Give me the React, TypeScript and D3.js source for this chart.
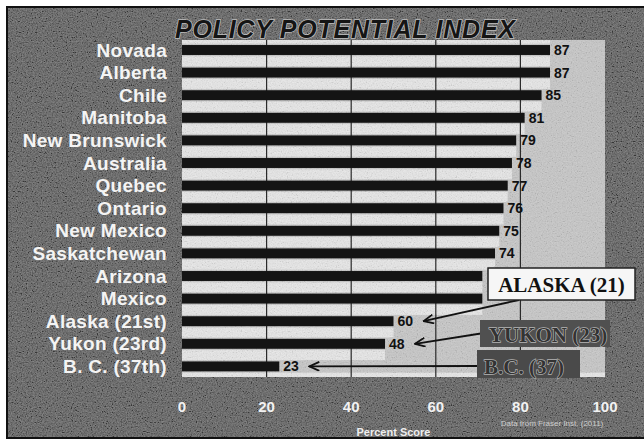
import * as d3 from 'd3';

const REGIONS = [
  'Novada', 'Alberta', 'Chile', 'Manitoba', 'New Brunswick', 'Australia', 'Quebec', 'Ontario',
  'New Mexico', 'Saskatchewan', 'Arizona', 'Mexico', 'Alaska (21st)', 'Yukon (23rd)', 'B. C. (37th)',
];
// bar lengths as drawn in the source (Alaska's bar reads ~50 though it is labelled 60)
const SCORES = [87, 87, 85, 81, 79, 78, 77, 76, 75, 74, 71, 71, 50, 48, 23];
const SCORE_LABELS = ['87', '87', '85', '81', '79', '78', '77', '76', '75', '74', '', '', '60', '48', '23'];
const X_TICKS = [0, 20, 40, 60, 80, 100];
const GRID_TICKS = [20, 40, 60, 80];

const W = 644, H = 441;
const SANS = 'Liberation Sans, Arial, Helvetica, sans-serif';
const SERIF = 'Liberation Serif, Times New Roman, serif';

export default function App() {
  const x = d3.scaleLinear().domain([0, 100]).range([182, 605]);
  const y = d3.scaleBand<string>().domain(REGIONS).range([38.7, 377.7]).paddingInner(0.56).paddingOuter(0.28);
  const bw = y.bandwidth();
  const step = y.step();
  const cy = (r: string) => (y(r) ?? 0) + bw / 2;

  const plotTop = 40, plotBottom = 377;

  // light stripes sit between the bars, running as far as the longer neighbour
  const stripes = d3.range(REGIONS.length + 1).map(i => {
    const above = i > 0 ? SCORES[i - 1] : SCORES[0];
    const below = i < REGIONS.length ? SCORES[i] : 100;
    const c = i < REGIONS.length ? cy(REGIONS[i]) - step / 2 : cy(REGIONS[REGIONS.length - 1]) + step / 2;
    return { c, v: Math.max(above, below) };
  });

  const tip = (i: number) => ({ x: x(SCORES[i]) + 30, y: cy(REGIONS[i]) });
  const tAk = tip(REGIONS.indexOf('Alaska (21st)'));
  const tYk = tip(REGIONS.indexOf('Yukon (23rd)'));
  const tBc = tip(REGIONS.indexOf('B. C. (37th)'));

  return (
    <svg width={W} height={H} viewBox={`0 0 ${W} ${H}`} style={{ position: 'absolute', left: 0, top: 0, display: 'block' }}>
      <defs>
        <filter id="grain" x="0" y="0" width="100%" height="100%">
          <feTurbulence type="fractalNoise" baseFrequency="0.8" numOctaves={2} seed={4} />
          <feColorMatrix type="matrix" values="0.33 0.33 0.33 0 0  0.33 0.33 0.33 0 0  0.33 0.33 0.33 0 0  0 0 0 0 1" />
          <feComponentTransfer>
            <feFuncR type="linear" slope={3} intercept={-1} />
            <feFuncG type="linear" slope={3} intercept={-1} />
            <feFuncB type="linear" slope={3} intercept={-1} />
          </feComponentTransfer>
        </filter>
        <marker id="arr" viewBox="0 0 12 10" refX="11" refY="5" markerWidth="12" markerHeight="10" orient="auto" markerUnits="userSpaceOnUse">
          <path d="M1,0.5 L11,5 L1,9.5" fill="none" stroke="#111" strokeWidth={1.8} />
        </marker>
      </defs>

      <rect x={0} y={0} width={W} height={H} fill="#fff" />
      {/* dark textured card */}
      <rect x={7} y={7} width={W} height={431} fill="#4e4e4e" stroke="#111" strokeWidth={2} />
      <rect x={8} y={8} width={W} height={429} filter="url(#grain)" opacity={0.3} />

      {/* plot panel */}
      <rect x={x(0)} y={plotTop} width={x(100) - x(0)} height={plotBottom - plotTop} fill="#c6c6c6" />
      {stripes.map((s, i) => (
        <rect key={`s${i}`} x={x(0)} y={Math.max(plotTop, s.c - 5)} width={x(s.v) - x(0)}
          height={Math.min(plotBottom, s.c + 5) - Math.max(plotTop, s.c - 5)} fill="#e6e6e6" />
      ))}
      <rect x={x(0)} y={plotTop} width={x(100) - x(0)} height={plotBottom - plotTop} filter="url(#grain)" opacity={0.1} />

      {GRID_TICKS.map(t => (
        <line key={`g${t}`} x1={x(t)} x2={x(t)} y1={plotTop} y2={plotBottom} stroke="#2a2a2a" strokeWidth={1.2} />
      ))}

      {REGIONS.map((r, i) => (
        <rect key={`b${r}`} x={x(0)} y={y(r)} width={x(SCORES[i]) - x(0)} height={bw} fill="#141414" />
      ))}

      {REGIONS.map((r, i) => (
        <text key={`v${r}`} x={x(SCORES[i]) + 4} y={cy(r) + 5} fontFamily={SANS} fontWeight="bold" fontSize={14} fill="#111">
          {SCORE_LABELS[i]}
        </text>
      ))}

      {REGIONS.map(r => (
        <text key={`l${r}`} x={167} y={cy(r) + 6.5} textAnchor="end" fontFamily={SANS} fontWeight="bold" fontSize={19}
          letterSpacing={0.3} fill="#f4f4f4">{r}</text>
      ))}

      <text x={345} y={38} textAnchor="middle" fontFamily={SANS} fontWeight="bold" fontStyle="italic" fontSize={25}
        fill="#151515" stroke="#bdbdbd" strokeWidth={1.6} paintOrder="stroke" textLength={340}>
        POLICY  POTENTIAL  INDEX
      </text>

      {X_TICKS.map(t => (
        <text key={`t${t}`} x={x(t)} y={412} textAnchor="middle" fontFamily={SANS} fontWeight="bold" fontSize={15} fill="#f2f2f2">{t}</text>
      ))}
      <text x={(x(0) + x(100)) / 2} y={436} textAnchor="middle" fontFamily={SANS} fontWeight="bold" fontSize={11} fill="#eee">Percent Score</text>
      <text x={552} y={426} textAnchor="middle" fontFamily={SANS} fontSize={8} fill="#cfcfcf">Data from Fraser Inst. (2011)</text>

      {/* call-outs */}
      <line x1={519} y1={300} x2={tAk.x} y2={tAk.y} stroke="#111" strokeWidth={1.8} markerEnd="url(#arr)" />
      <line x1={484} y1={333} x2={tYk.x} y2={tYk.y} stroke="#111" strokeWidth={1.8} markerEnd="url(#arr)" />
      <line x1={478} y1={366} x2={tBc.x} y2={tBc.y} stroke="#111" strokeWidth={1.8} markerEnd="url(#arr)" />

      <rect x={488} y={268} width={147} height={32} fill="#f6f6f6" stroke="#222" strokeWidth={1.5} />
      <text x={561.5} y={292} textAnchor="middle" fontFamily={SERIF} fontWeight="bold" fontSize={21} fill="#111">ALASKA (21)</text>

      <rect x={480} y={320} width={130} height={27} fill="#505050" />
      <text x={548} y={342} textAnchor="middle" fontFamily={SERIF} fontWeight="bold" fontSize={21} fill="#333"
        stroke="#b4b4b4" strokeWidth={1.3} paintOrder="stroke">YUKON (23)</text>

      <rect x={477} y={350} width={103} height={28} fill="#4a4a4a" />
      <text x={524} y={374} textAnchor="middle" fontFamily={SERIF} fontWeight="bold" fontSize={21} fill="#333"
        stroke="#b4b4b4" strokeWidth={1.3} paintOrder="stroke">B.C. (37)</text>
    </svg>
  );
}
